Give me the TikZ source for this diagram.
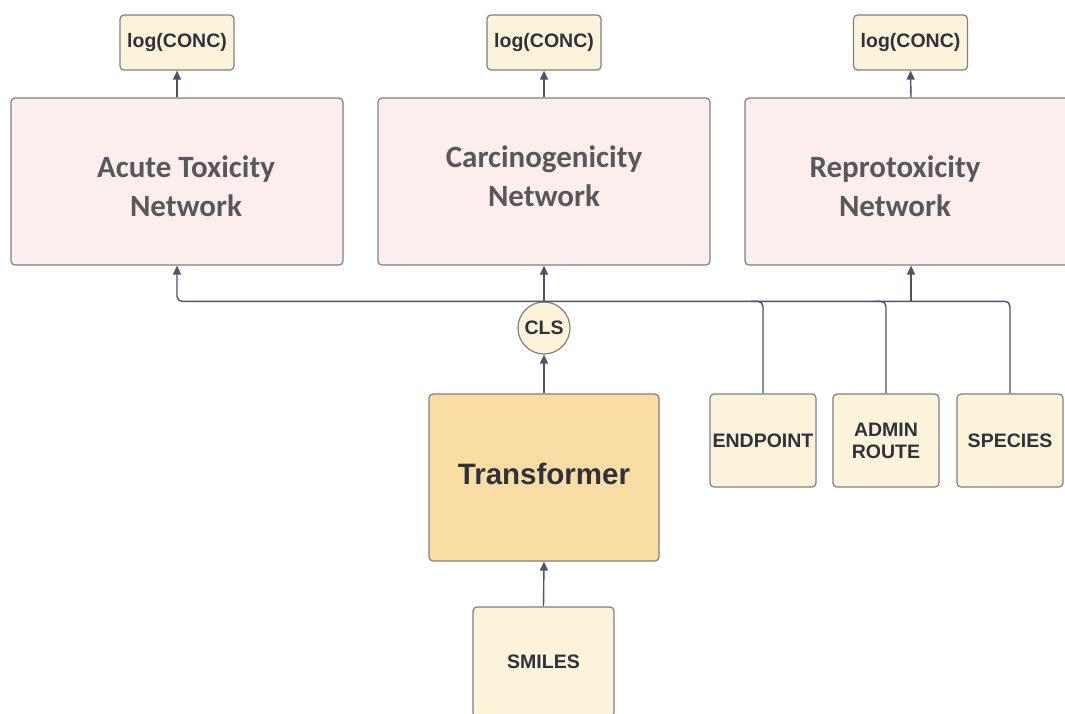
\documentclass[tikz,border=0pt]{standalone}
\usepackage{fontspec}
\setmainfont{Liberation Sans}
\newfontfamily\netfont{Carlito}
\usetikzlibrary{arrows.meta,calc}
\definecolor{cream}{RGB}{253,242,218}
\definecolor{peach}{RGB}{250,221,165}
\definecolor{blush}{RGB}{253,238,238}
\definecolor{edge}{RGB}{128,128,128}
\definecolor{wire}{RGB}{78,84,98}
\definecolor{ink}{RGB}{45,50,60}
\definecolor{netink}{RGB}{88,88,88}
\tikzset{
  box/.style={draw=edge, line width=1.2pt, rounded corners=4pt, inner sep=0pt,
    font=\fontsize{19.5}{23}\selectfont\bfseries, text=ink, align=center},
  inbox/.style={box, fill=cream},
  netbox/.style={box, fill=blush, minimum width=332pt, minimum height=167pt},
  nettext/.style={font=\netfont\fontsize{31}{39}\selectfont\bfseries, text=netink, align=center, inner sep=0pt},
  wireline/.style={draw=wire, line width=1.4pt},
  arrowline/.style={wireline, -{Triangle[length=9pt,width=8pt]}},
}
\begin{document}
\begin{tikzpicture}[x=1pt,y=-1pt]
\clip (0,0) rectangle (1065,713);
\fill[white] (0,0) rectangle (1065,713);

% output heads
\node[inbox, minimum width=114pt, minimum height=55pt] (log1) at (177,42.5) {log(CONC)};
\node[inbox, minimum width=114pt, minimum height=55pt] (log2) at (544,42.5) {log(CONC)};
\node[inbox, minimum width=114pt, minimum height=55pt] (log3) at (910.5,42.5) {log(CONC)};

% task networks
\node[netbox] (net1) at (177,181.5) {};
\node[netbox] (net2) at (544,181.5) {};
\node[netbox] (net3) at (911,181.5) {};
\node[nettext] (t1) at (186,186) {Acute Toxicity\\Network};
\node[nettext] (t2) at (544,176) {Carcinogenicity\\Network};
\node[nettext] (t3) at (895,186) {Reprotoxicity\\Network};

% shared encoder
\node[circle, draw=edge, line width=1.2pt, fill=cream, minimum size=52pt, inner sep=0pt,
      font=\fontsize{19.5}{23}\selectfont\bfseries, text=ink] (cls) at (544,328) {CLS};
\node[box, fill=peach, minimum width=230pt, minimum height=167pt] (trans) at (544,477.5) {};
\node[font=\fontsize{29.5}{34}\selectfont\bfseries, text=ink, inner sep=0pt] (transtext) at (544,474) {Transformer};
\node[inbox, minimum width=141pt, minimum height=110pt] (smiles) at (543.5,662) {SMILES};

% metadata inputs
\node[inbox, minimum width=106pt, minimum height=93pt] (endpoint) at (763,440.5) {ENDPOINT};
\node[inbox, minimum width=106pt, minimum height=93pt] (admin) at (886,440.5) {ADMIN\\[-1pt]ROUTE};
\node[inbox, minimum width=106pt, minimum height=93pt] (species) at (1010,440.5) {SPECIES};

% connectors
\draw[arrowline] (smiles.north) -- (trans.south);
\draw[arrowline] (trans.north) -- (cls.south);
\draw[arrowline] (cls.north) -- (net2.south);
\draw[arrowline, rounded corners=5pt] (species.north) |- (net1.south |- cls.north) -- (net1.south);
\draw[wireline, rounded corners=5pt] (endpoint.north) |- ([xshift=-12pt]endpoint.north |- cls.north);
\draw[wireline, rounded corners=5pt] (admin.north) |- ([xshift=-12pt]admin.north |- cls.north);
\draw[arrowline] (net3.south |- cls.north) -- (net3.south);
\draw[arrowline] (net1.north) -- (log1.south);
\draw[arrowline] (net2.north) -- (log2.south);
\draw[arrowline] (net3.north) -- (log3.south);
\end{tikzpicture}
\end{document}
